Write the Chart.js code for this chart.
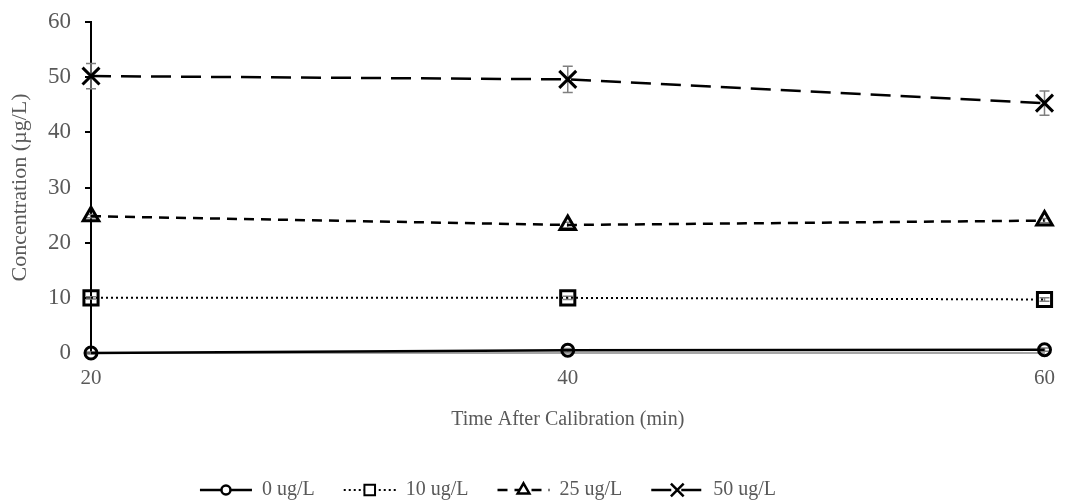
<!DOCTYPE html>
<html>
<head>
<meta charset="utf-8">
<script src="https://cdn.jsdelivr.net/npm/chart.js@4.4.0/dist/chart.umd.min.js"></script>
<style>
  html, body { margin: 0; padding: 0; background: #fff; }
  #wrap { width: 1068px; height: 500px; position: relative; }
</style>
</head>
<body>
<div id="wrap"><canvas id="Chart"></canvas></div>
<script>
// data
const timePoints = [20, 40, 60];
const conc0 = [0, 0.5, 0.6];
const conc10 = [10.0, 10.0, 9.7];
const conc25 = [24.8, 23.2, 24.0];
const conc50 = [50.2, 49.6, 45.3];
const err0 = [0.2, 0.3, 0.3];
const err10 = [0.2, 0.3, 0.3];
const err25 = [0.3, 0.5, 0.4];
const err50 = [2.3, 2.4, 2.2];
const seriesNames = ["0 ug/L", "10 ug/L", "25 ug/L", "50 ug/L"];
const yTicks = [0, 10, 20, 30, 40, 50, 60];
const xTicks = [20, 40, 60];

const FONT = "'Liberation Serif', 'Times New Roman', serif";
const GREY_TEXT = "#595959";

function toPoints(vals) {
    return timePoints.map(function (t, i) { return { x: t, y: vals[i] }; });
}

const errors = [err0, err10, err25, err50];

// grey error bars, drawn under the markers
const errorBars = {
    id: "errorBars",
    beforeDatasetsDraw: function (chart) {
        const ctx = chart.ctx;
        const xs = chart.scales.x;
        const ys = chart.scales.y;
        ctx.save();
        ctx.strokeStyle = "#7f7f7f";
        ctx.lineWidth = 1.5;
        chart.data.datasets.forEach(function (ds, di) {
            ds.data.forEach(function (p, i) {
                const e = errors[di][i];
                const px = xs.getPixelForValue(p.x);
                const top = ys.getPixelForValue(p.y + e);
                const bot = ys.getPixelForValue(p.y - e);
                ctx.beginPath();
                ctx.moveTo(px, top); ctx.lineTo(px, bot);
                ctx.moveTo(px - 5, top); ctx.lineTo(px + 5, top);
                ctx.moveTo(px - 5, bot); ctx.lineTo(px + 5, bot);
                ctx.stroke();
            });
        });
        ctx.restore();
    }
};

// legend with line sample + marker, like the spreadsheet one
const lineLegend = {
    id: "lineLegend",
    afterDraw: function (chart) {
        const ctx = chart.ctx;
        const y = 490;
        const sample = 52;
        const gap = 10;
        const itemGap = 29;
        ctx.save();
        ctx.font = "20px " + FONT;
        let widths = chart.data.datasets.map(function (ds) {
            return sample + gap + ctx.measureText(ds.label).width;
        });
        let total = widths.reduce(function (a, b) { return a + b; }, 0) + itemGap * (widths.length - 1);
        let x = 488 - total / 2;
        chart.data.datasets.forEach(function (ds, i) {
            ctx.strokeStyle = "#000";
            ctx.lineWidth = ds.borderWidth;
            ctx.setLineDash(ds.borderDash || []);
            ctx.beginPath();
            ctx.moveTo(x, y);
            ctx.lineTo(x + sample, y);
            ctx.stroke();
            ctx.setLineDash([]);
            ctx.fillStyle = "#fff";
            Chart.helpers.drawPoint(ctx, {
                pointStyle: ds.pointStyle,
                radius: ds.pointRadius * 0.75,
                rotation: 0,
                borderWidth: 2.5
            }, x + sample / 2, y);
            ctx.fillStyle = GREY_TEXT;
            ctx.textBaseline = "middle";
            ctx.textAlign = "left";
            ctx.fillText(ds.label, x + sample + gap, y);
            x += widths[i] + itemGap;
        });
        ctx.restore();
    }
};

var ctx = document.getElementById("Chart").getContext("2d");

var chart = new Chart(ctx, {
    type: "line",
    data: {
        datasets: [
            {
                label: seriesNames[0],
                data: toPoints(conc0),
                borderColor: "#000",
                borderWidth: 2.5,
                pointStyle: "circle",
                pointRadius: 6,
                pointBorderWidth: 3,
                pointBorderColor: "#000",
                pointBackgroundColor: "rgba(0,0,0,0)",
                clip: false
            },
            {
                label: seriesNames[1],
                data: toPoints(conc10),
                borderColor: "#000",
                borderWidth: 2,
                borderDash: [2, 3],
                pointStyle: "rect",
                pointRadius: 10,
                pointBorderWidth: 3,
                pointBorderColor: "#000",
                pointBackgroundColor: "rgba(0,0,0,0)",
                clip: false
            },
            {
                label: seriesNames[2],
                data: toPoints(conc25),
                borderColor: "#000",
                borderWidth: 2.5,
                borderDash: [10, 7],
                pointStyle: "triangle",
                pointRadius: 9,
                pointBorderWidth: 3,
                pointBorderColor: "#000",
                pointBackgroundColor: "rgba(0,0,0,0)",
                clip: false
            },
            {
                label: seriesNames[3],
                data: toPoints(conc50),
                borderColor: "#000",
                borderWidth: 2.5,
                borderDash: [20, 10],
                pointStyle: "crossRot",
                pointRadius: 12,
                pointBorderWidth: 3,
                pointBorderColor: "#000",
                pointBackgroundColor: "rgba(0,0,0,0)",
                clip: false
            }
        ]
    },
    options: {
        responsive: true,
        maintainAspectRatio: false,
        animation: false,
        layout: {
            padding: { left: 0, right: 15, top: 22, bottom: 68 }
        },
        scales: {
            x: {
                type: "linear",
                min: xTicks[0],
                max: xTicks[xTicks.length - 1],
                afterBuildTicks: function (scale) {
                    scale.ticks = xTicks.map(function (v) { return { value: v }; });
                },
                afterFit: function (scale) { scale.height = 79; },
                grid: { display: false, drawTicks: false },
                border: { display: true, color: "#a6a6a6", width: 2 },
                ticks: {
                    padding: 13,
                    color: GREY_TEXT,
                    font: { family: FONT, size: 21 }
                },
                title: {
                    display: true,
                    text: "Time After Calibration (min)",
                    color: GREY_TEXT,
                    font: { family: FONT, size: 20 },
                    padding: { top: 0, bottom: 0 }
                }
            },
            y: {
                min: yTicks[0],
                max: yTicks[yTicks.length - 1],
                afterBuildTicks: function (scale) {
                    scale.ticks = yTicks.map(function (v) { return { value: v }; });
                },
                afterFit: function (scale) {
                    scale.width = 91;
                    scale.paddingTop = 0;
                    scale.paddingBottom = 0;
                },
                grid: {
                    drawOnChartArea: false,
                    drawTicks: true,
                    tickLength: 6,
                    color: "#000",
                    lineWidth: 2
                },
                border: { display: true, color: "#000", width: 2 },
                ticks: {
                    padding: 14,
                    color: GREY_TEXT,
                    font: { family: FONT, size: 23 }
                },
                title: {
                    display: true,
                    text: "Concentration (µg/L)",
                    color: GREY_TEXT,
                    font: { family: FONT, size: 22 },
                    padding: { top: 7, bottom: 0 }
                }
            }
        },
        plugins: {
            legend: { display: false },
            title: { display: false },
            tooltip: { enabled: false }
        }
    },
    plugins: [errorBars, lineLegend]
});
</script>
</body>
</html>
